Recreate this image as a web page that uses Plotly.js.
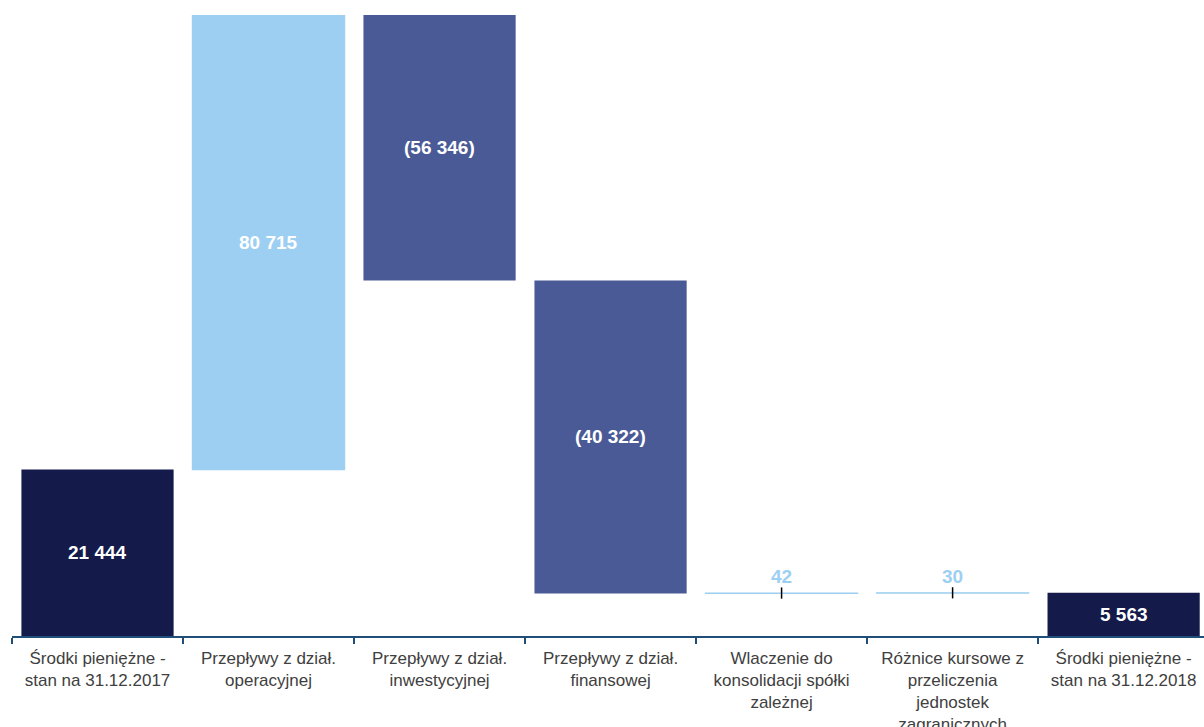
<!DOCTYPE html>
<html>
<head>
<meta charset="utf-8">
<script src="https://cdn.plot.ly/plotly-3.0.1.min.js"></script>
<style>html,body{margin:0;padding:0;background:#fff;overflow:hidden;}</style>
</head>
<body>
<div id="chart" style="width:1204px;height:727px;"></div>
<script>
const categories = [
  "Środki pieniężne -<br>stan na 31.12.2017",
  "Przepływy z dział.<br>operacyjnej",
  "Przepływy z dział.<br>inwestycyjnej",
  "Przepływy z dział.<br>finansowej",
  "Wlaczenie do<br>konsolidacji spółki<br>zależnej",
  "Różnice kursowe z<br>przeliczenia<br>jednostek<br>zagranicznych",
  "Środki pieniężne -<br>stan na 31.12.2018"
];
const measures = ["absolute","relative","relative","relative","relative","relative","total"];
const values = [21444, 80715, -56346, -40322, 42, 30, 5563];
const valueLabels = ["21 444","80 715","(56 346)","(40 322)","42","30","5 563"];

const yMax = 80000;

// running bases/tops from the data
const bases = [], tops = [];
let run = 0;
values.forEach((v, i) => {
  if (measures[i] === "absolute" || measures[i] === "total") {
    bases.push(0); tops.push(v); run = v;
  } else {
    bases.push(run); tops.push(run + v); run += v;
  }
});

const clamp = v => Math.max(0, Math.min(yMax, v));
const annotations = values.map((v, i) => {
  const lo = clamp(Math.min(bases[i], tops[i]));
  const hi = clamp(Math.max(bases[i], tops[i]));
  const tiny = Math.abs(v) < 1000;
  return {
    x: categories[i], xref: "x",
    y: tiny ? hi : (lo + hi) / 2, yref: "y",
    text: "<b>" + valueLabels[i] + "</b>",
    showarrow: false,
    yanchor: tiny ? "bottom" : "middle",
    yshift: tiny ? 4 : 0,
    font: {family: "Liberation Sans, Arial, sans-serif", size: 19, color: tiny ? "#9DCFF2" : "#FFFFFF"}
  };
});

const tinyX = [], tinyY = [];
values.forEach((v, i) => { if (Math.abs(v) < 1000) { tinyX.push(categories[i]); tinyY.push(tops[i]); } });

const data = [
  {
    type: "waterfall",
    x: categories,
    y: values,
    measure: measures,
    textposition: "none",
    connector: {visible: false},
    increasing: {marker: {color: "#9DCFF2", line: {color: "#9DCFF2", width: 1.2}}},
    decreasing: {marker: {color: "#4A5A96"}},
    totals: {marker: {color: "#141B4A"}},
    hoverinfo: "skip"
  },
  {
    type: "scatter",
    mode: "markers",
    x: tinyX,
    y: tinyY,
    marker: {symbol: "line-ns-open", size: 8, color: "#000000", line: {width: 1.5, color: "#000000"}},
    hoverinfo: "skip",
    showlegend: false
  }
];

const layout = {
  width: 1204,
  height: 727,
  margin: {l: 12, r: 0, t: 15, b: 91},
  paper_bgcolor: "#ffffff",
  plot_bgcolor: "#ffffff",
  showlegend: false,
  waterfallgap: 0.11,
  font: {family: "Liberation Sans, Arial, sans-serif", color: "#404040"},
  xaxis: {
    type: "category",
    range: [-0.5, 6.47],
    tickson: "boundaries",
    ticks: "outside",
    ticklen: 6,
    tickwidth: 1.5,
    tickcolor: "#1F4E79",
    showline: true,
    linecolor: "#1F4E79",
    linewidth: 1.5,
    showgrid: false,
    zeroline: false,
    tickangle: 0,
    automargin: false,
    ticklabelstandoff: 6,
    tickfont: {family: "Liberation Sans, Arial, sans-serif", size: 17, color: "#404040"}
  },
  yaxis: {
    range: [0, yMax],
    visible: false,
    showgrid: false,
    zeroline: false
  },
  annotations: annotations
};

Plotly.newPlot("chart", data, layout, {displayModeBar: false, staticPlot: true});
</script>
</body>
</html>
